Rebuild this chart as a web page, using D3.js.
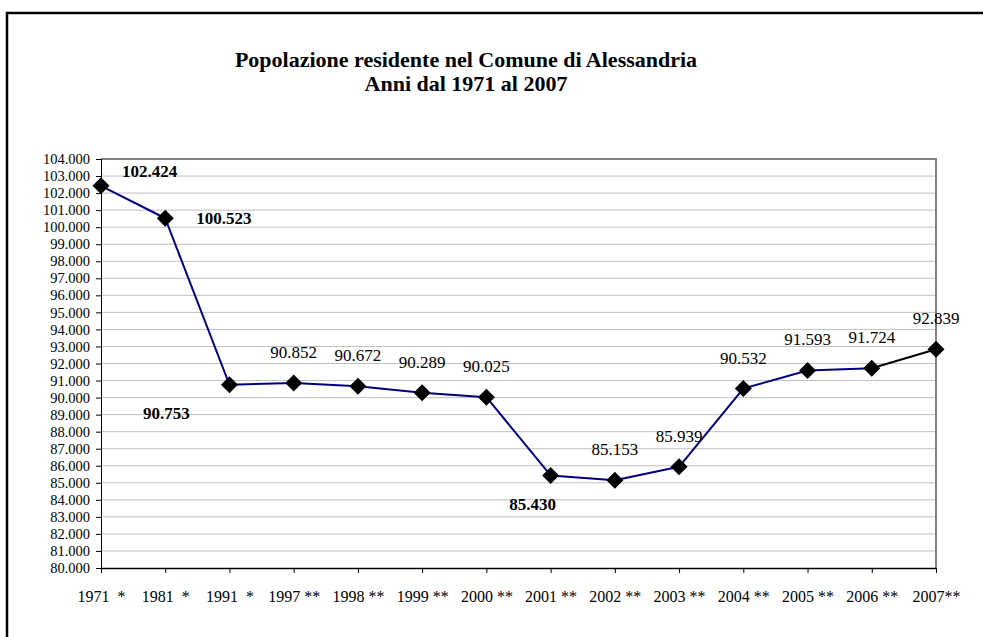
<!DOCTYPE html>
<html>
<head>
<meta charset="utf-8">
<script src="https://cdn.jsdelivr.net/npm/d3@7"></script>
<style>
  body { margin: 0; background: #fff; }
  text { font-family: "Liberation Serif", "Times New Roman", serif; fill: #000; }
</style>
</head>
<body>
<div id="chart"></div>
<script>
// data
var years = ["1971", "1981", "1991", "1997", "1998", "1999", "2000", "2001", "2002", "2003", "2004", "2005", "2006", "2007"];
var notes = ["  *", "  *", "  *", " **", " **", " **", " **", " **", " **", " **", " **", " **", " **", "**"];
var population = [102424, 100523, 90753, 90852, 90672, 90289, 90025, 85430, 85153, 85939, 90532, 91593, 91724, 92839];
var yTicks = d3.range(80000, 104001, 1000);
var titleLines = ["Popolazione residente nel Comune di Alessandria", "Anni dal 1971 al 2007"];

var width = 983, height = 637;
var margin = {top: 159, right: 47, bottom: 69, left: 101};
var serif = "'Liberation Serif', 'Times New Roman', serif";

var svg = d3.select("#chart")
    .append("svg")
    .attr("width", width)
    .attr("height", height);

// outer frame
svg.append("rect")
    .attr("x", 7).attr("y", 13)
    .attr("width", 1000).attr("height", 700)
    .attr("fill", "none")
    .attr("stroke", "#000")
    .attr("stroke-width", 2.5);

// title
svg.append("text")
    .attr("x", 466)
    .attr("y", 67)
    .attr("text-anchor", "middle")
    .style("font-family", serif)
    .style("font-size", "22px")
    .style("font-weight", "bold")
    .selectAll("tspan")
    .data(titleLines)
    .enter().append("tspan")
    .attr("x", 466)
    .attr("dy", (d, i) => i ? 24 : 0)
    .text(d => d);

var x = d3.scalePoint()
    .domain(d3.range(years.length))
    .range([margin.left, width - margin.right]);

var y = d3.scaleLinear()
    .domain([80000, 104000])
    .range([height - margin.bottom, margin.top]);

var fmtVal = d3.formatLocale({decimal: ",", thousands: ".", grouping: [3], currency: ["", ""]}).format(",d");

// gridlines
svg.append("g")
    .selectAll("line")
    .data(yTicks.slice(1))
    .enter().append("line")
    .attr("x1", margin.left).attr("x2", width - margin.right)
    .attr("y1", d => y(d)).attr("y2", d => y(d))
    .attr("stroke", "#c0c0c0")
    .attr("stroke-width", 1);

// top and right border of plot area
svg.append("path")
    .attr("d", `M${margin.left},${y(104000)}H${width - margin.right}V${y(80000)}`)
    .attr("fill", "none")
    .attr("stroke", "#808080")
    .attr("stroke-width", 2);

// y axis
var yAxis = svg.append("g")
    .attr("transform", `translate(${margin.left},0)`)
    .attr("font-family", serif)
    .call(d3.axisLeft(y).tickValues(yTicks).tickSize(5).tickPadding(6).tickFormat(fmtVal));
yAxis.selectAll("text").style("font-size", "14.5px").style("font-family", serif);
yAxis.selectAll("line, path").attr("stroke", "#000");

// x axis
var xAxis = svg.append("g")
    .attr("transform", `translate(0,${height - margin.bottom})`)
    .call(d3.axisBottom(x).tickSize(5).tickPadding(18).tickSizeOuter(0).tickFormat(i => years[i] + notes[i]));
xAxis.selectAll("text").style("font-size", "16px").style("font-family", serif).style("white-space", "pre");
xAxis.selectAll("line").attr("stroke", "#000");
xAxis.select("path").attr("stroke", "#000").attr("stroke-width", 1.5);

// line segments (last one black)
var segs = d3.range(population.length - 1).map(i => [i, i + 1]);
svg.append("g")
    .selectAll("line")
    .data(segs)
    .enter().append("line")
    .attr("x1", d => x(d[0])).attr("y1", d => y(population[d[0]]))
    .attr("x2", d => x(d[1])).attr("y2", d => y(population[d[1]]))
    .attr("stroke", (d, i) => i === segs.length - 1 ? "#000" : "#000080")
    .attr("stroke-width", 2);

// markers
svg.append("g")
    .selectAll("path")
    .data(population)
    .enter().append("path")
    .attr("d", "M0,-8.5L8.5,0L0,8.5L-8.5,0Z")
    .attr("transform", (d, i) => `translate(${x(i)},${y(d)})`)
    .attr("fill", "#000");

// data labels: bold ones are offset, others centered above
var boldPos = {0: [21, -9, "start"], 1: [31, 6, "start"], 2: [-63, 34, "middle"], 7: [-18, 35, "middle"]};
svg.append("g")
    .selectAll("text")
    .data(population)
    .enter().append("text")
    .attr("x", (d, i) => x(i) + (boldPos[i] ? boldPos[i][0] : 0))
    .attr("y", (d, i) => y(d) + (boldPos[i] ? boldPos[i][1] : -25))
    .attr("text-anchor", (d, i) => boldPos[i] ? boldPos[i][2] : "middle")
    .style("font-family", serif)
    .style("font-size", "17px")
    .style("font-weight", (d, i) => boldPos[i] ? "bold" : "normal")
    .text(d => fmtVal(d));
</script>
</body>
</html>
